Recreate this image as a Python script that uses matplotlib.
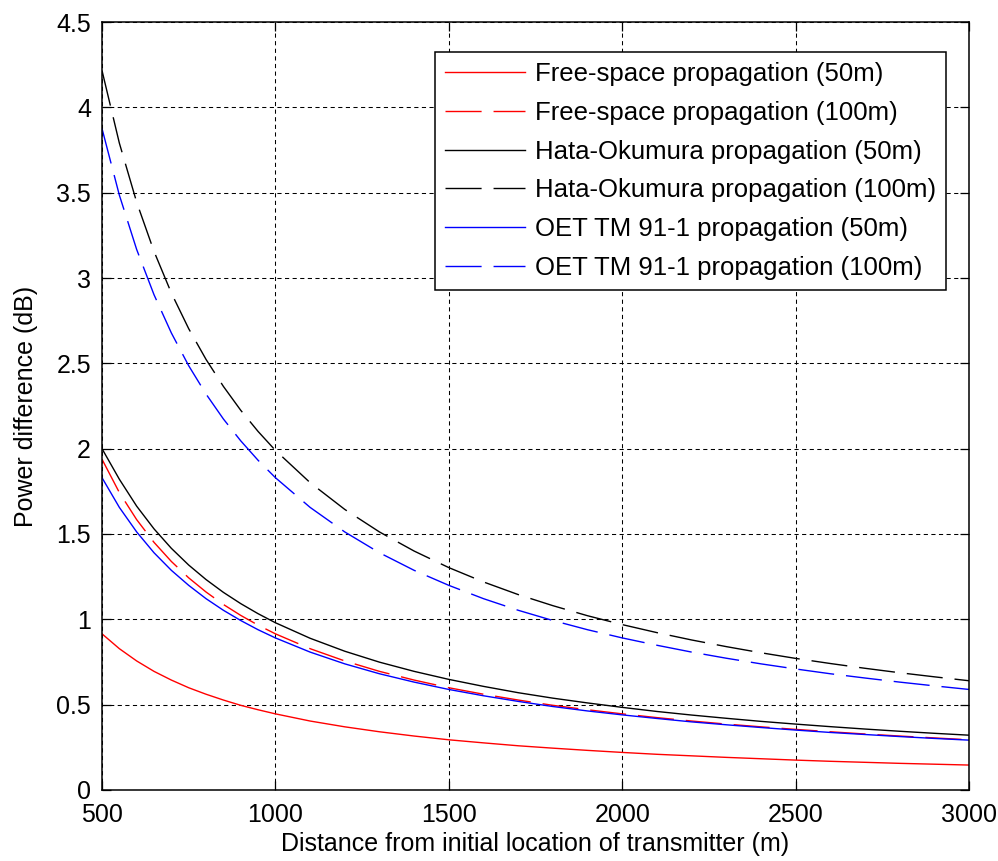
import matplotlib
matplotlib.use("Agg")
import matplotlib.pyplot as plt

plt.rcParams['font.family'] = ['Liberation Sans', 'DejaVu Sans']

distance = [500, 550, 600, 650, 700, 750, 800, 850, 900, 950, 1000,
            1100, 1200, 1300, 1400, 1500, 1600, 1700, 1800, 1900, 2000,
            2100, 2200, 2300, 2400, 2500, 2600, 2700, 2800, 2900, 3000]

free_space_50 = [0.915, 0.828, 0.756, 0.695, 0.644, 0.599, 0.561, 0.527, 0.496, 0.470, 0.446,
                 0.404, 0.370, 0.341, 0.316, 0.294, 0.276, 0.259, 0.245, 0.232, 0.220,
                 0.209, 0.200, 0.191, 0.183, 0.175, 0.168, 0.162, 0.156, 0.151, 0.146]
free_space_100 = [1.938, 1.743, 1.584, 1.451, 1.339, 1.243, 1.160, 1.087, 1.023, 0.966, 0.915,
                  0.828, 0.756, 0.695, 0.644, 0.599, 0.561, 0.527, 0.496, 0.470, 0.446,
                  0.424, 0.404, 0.386, 0.370, 0.355, 0.341, 0.328, 0.316, 0.305, 0.294]
hata_50 = [2.000, 1.821, 1.663, 1.530, 1.416, 1.318, 1.233, 1.158, 1.092, 1.033, 0.980,
           0.889, 0.813, 0.749, 0.695, 0.648, 0.607, 0.570, 0.538, 0.510, 0.484,
           0.460, 0.439, 0.420, 0.402, 0.386, 0.371, 0.357, 0.344, 0.332, 0.321]
hata_100 = [4.216, 3.791, 3.444, 3.156, 2.912, 2.703, 2.523, 2.365, 2.225, 2.101, 1.990,
            1.801, 1.644, 1.512, 1.400, 1.303, 1.219, 1.145, 1.080, 1.021, 0.969,
            0.922, 0.879, 0.840, 0.804, 0.771, 0.741, 0.713, 0.687, 0.663, 0.640]
oet_50 = [1.830, 1.656, 1.512, 1.390, 1.287, 1.199, 1.121, 1.053, 0.993, 0.939, 0.891,
          0.808, 0.739, 0.681, 0.632, 0.589, 0.552, 0.519, 0.489, 0.463, 0.440,
          0.419, 0.399, 0.382, 0.366, 0.351, 0.337, 0.325, 0.313, 0.302, 0.292]
oet_100 = [3.876, 3.486, 3.167, 2.902, 2.678, 2.486, 2.320, 2.174, 2.046, 1.932, 1.830,
           1.656, 1.512, 1.390, 1.287, 1.199, 1.121, 1.053, 0.993, 0.939, 0.891,
           0.848, 0.808, 0.772, 0.739, 0.709, 0.681, 0.656, 0.632, 0.610, 0.589]

labels = ["Free-space propagation (50m)", "Free-space propagation (100m)",
          "Hata-Okumura propagation (50m)", "Hata-Okumura propagation (100m)",
          "OET TM 91-1 propagation (50m)", "OET TM 91-1 propagation (100m)"]
x_ticks = [500, 1000, 1500, 2000, 2500, 3000]
y_ticks = [0, 0.5, 1, 1.5, 2, 2.5, 3, 3.5, 4, 4.5]
y_tick_labels = ["0", "0.5", "1", "1.5", "2", "2.5", "3", "3.5", "4", "4.5"]

fig = plt.figure(figsize=(9.98, 8.61), dpi=100)
ax = fig.add_axes([0.1022, 0.0825, 0.971 - 0.1022, 0.9744 - 0.0825])

dash = (0, (26, 8.6))
lw = 1.0
series = [(free_space_50, '#ff0000', '-'), (free_space_100, '#ff0000', dash),
          (hata_50, '#000000', '-'), (hata_100, '#000000', dash),
          (oet_50, '#0000ff', '-'), (oet_100, '#0000ff', dash)]
for (vals, col, ls), lab in zip(series, labels):
    ax.plot(distance, vals, color=col, linestyle=ls, linewidth=lw, label=lab)

ax.set_xlim(500, 3000)
ax.set_ylim(0, 4.5)
ax.set_xticks(x_ticks)
ax.set_xticklabels([str(v) for v in x_ticks])
ax.set_yticks(y_ticks)
ax.set_yticklabels(y_tick_labels)
ax.grid(True, color='black', linestyle=(0, (4, 3.3)), linewidth=0.75)
ax.set_axisbelow(True)
ax.tick_params(direction='in', length=6.5, width=0.9, top=True, right=True,
               labelsize=18, colors='black')
ax.tick_params(axis='x', pad=9.5)
ax.tick_params(axis='y', pad=8)
for sp in ax.spines.values():
    sp.set_linewidth(1.1)
    sp.set_color('black')

ax.set_xlabel("Distance from initial location of transmitter (m)", fontsize=18)
ax.set_ylabel("Power difference (dB)", fontsize=18)
ax.xaxis.set_label_coords(0.5, -(832 - 790) / 768.0)
ax.yaxis.set_label_coords((38 - 102) / 867.0, 0.5)

leg = ax.legend(loc='upper right', bbox_to_anchor=(946 / 998, 1 - 52 / 861),
                bbox_transform=fig.transFigure, fontsize=18.5, frameon=True,
                fancybox=False, edgecolor='black', framealpha=1,
                handlelength=3.1, handletextpad=0.4, labelspacing=0.58,
                borderpad=0.38, borderaxespad=0)
leg.get_frame().set_linewidth(1.1)

fig.savefig("out.png", dpi=100)
